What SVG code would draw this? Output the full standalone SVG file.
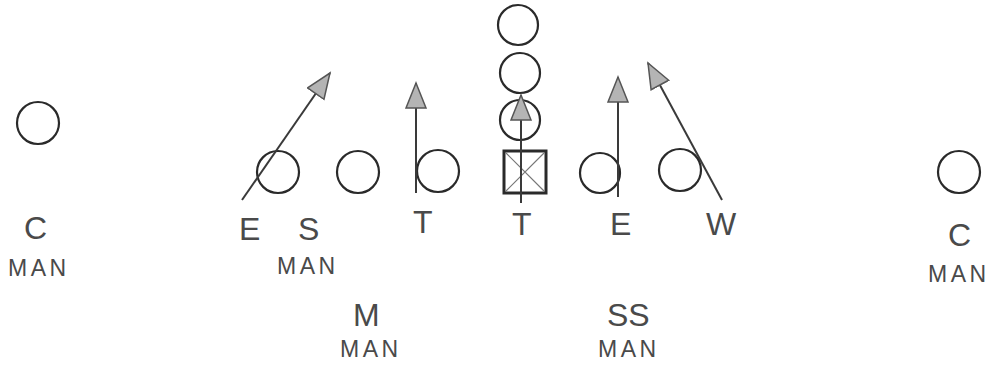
<svg xmlns="http://www.w3.org/2000/svg" width="992" height="367" viewBox="0 0 992 367">
<style>
.p{fill:none;stroke:#2a2a2a;stroke-width:2.2}
.big{font-family:"Liberation Sans",Arial,sans-serif;font-size:32px;fill:#4a4a4a}
.man{font-family:"Liberation Sans",Arial,sans-serif;font-size:23px;fill:#4a4a4a;letter-spacing:3.5px}
.c{stroke:#3a3a3a;stroke-width:2;fill:none}
</style>
<defs>
<marker id="ah" markerUnits="userSpaceOnUse" markerWidth="30" markerHeight="24" refX="26" refY="11" orient="auto">
<path d="M1,1 L26,11 L1,21 Z" fill="#b4b4b4" stroke="#555" stroke-width="1.5"/>
</marker>
</defs>
<rect width="992" height="367" fill="#fff"/>
<g id="C-left"><circle class="p" cx="38" cy="123" r="21"/><text class="big" x="24" y="239">C</text><text class="man" x="8" y="276">MAN</text></g>
<g id="E-left"><circle class="p" cx="278" cy="172" r="21"/><text class="big" x="239" y="240">E</text></g>
<g id="S"><circle class="p" cx="358" cy="172" r="21"/><text class="big" x="298" y="240">S</text><text class="man" x="277" y="274">MAN</text></g>
<g id="T-left"><circle class="p" cx="438" cy="171" r="21"/><text class="big" x="413" y="233">T</text></g>
<g id="T-center"><rect x="504" y="151" width="42" height="42" fill="none" stroke="#2a2a2a" stroke-width="3"/><path d="M506,153 L544,191 M544,153 L506,191" stroke="#777" stroke-width="1.2"/><text class="big" x="512" y="235">T</text></g>
<g id="backs"><circle class="p" cx="518" cy="25" r="20"/><circle class="p" cx="520" cy="73" r="20"/><circle class="p" cx="520" cy="120" r="20"/></g>
<g id="E-right"><circle class="p" cx="600" cy="173" r="20"/><text class="big" x="610" y="235">E</text></g>
<g id="W"><circle class="p" cx="680" cy="170" r="21"/><text class="big" x="706" y="235">W</text></g>
<g id="C-right"><circle class="p" cx="959" cy="172" r="21"/><text class="big" x="948" y="246">C</text><text class="man" x="928" y="282">MAN</text></g>
<g id="M"><text class="big" x="353" y="326">M</text><text class="man" x="340" y="357">MAN</text></g>
<g id="SS"><text class="big" x="607" y="326">SS</text><text class="man" x="598" y="357">MAN</text></g>
<g id="connectors">
<line class="c" x1="242" y1="200" x2="330" y2="73" marker-end="url(#ah)"/>
<line class="c" x1="416" y1="193" x2="416" y2="83" marker-end="url(#ah)"/>
<line class="c" x1="521" y1="203" x2="521" y2="95" marker-end="url(#ah)"/>
<line class="c" x1="618" y1="197" x2="618" y2="77" marker-end="url(#ah)"/>
<line class="c" x1="722" y1="200" x2="648" y2="63" marker-end="url(#ah)"/>
</g>
</svg>
